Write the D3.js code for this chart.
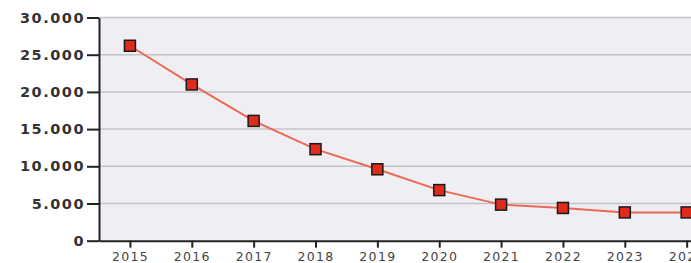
<!DOCTYPE html>
<html>
<head>
<meta charset="utf-8">
<script src="https://cdn.jsdelivr.net/npm/d3@7"></script>
<style>
  body { margin: 0; background: #fff; overflow: hidden; }
  svg { display: block; }
</style>
</head>
<body>
<svg width="691" height="263"></svg>
<script>
var years = [2015, 2016, 2017, 2018, 2019, 2020, 2021, 2022, 2023, 2024];
var values = [26200, 21000, 16100, 12300, 9600, 6800, 4850, 4400, 3800, 3800];
var yTicks = [0, 5000, 10000, 15000, 20000, 25000, 30000];

var svg = d3.select("svg");

// plot box (note: "top" is taken by window.top)
var plotL = 99, plotT = 17.5, plotB = 240.7, plotR = 717.6;

var x = d3.scalePoint()
    .domain(years)
    .range([plotL, plotR])
    .padding(0.5);

var y = d3.scaleLinear()
    .domain([0, 30000])
    .range([plotB, plotT]);

// dots as thousands separator
var fmt = function (d) {
    return d3.format(",")(d).replace(/,/g, ".");
};

// plot background
svg.append("rect")
    .attr("x", plotL)
    .attr("y", plotT)
    .attr("width", plotR - plotL)
    .attr("height", plotB - plotT)
    .attr("fill", "#efeef3");

// gridlines
svg.selectAll("line.grid").data(yTicks.slice(1)).enter()
    .append("line")
    .attr("class", "grid")
    .attr("x1", plotL)
    .attr("x2", plotR)
    .attr("y1", function (d) { return y(d); })
    .attr("y2", function (d) { return y(d); })
    .attr("stroke", "#c4c4c8")
    .attr("stroke-width", 1.5);

// y axis
var yAxis = svg.append("g")
    .attr("transform", "translate(" + plotL + ",0)")
    .call(d3.axisLeft(y).tickValues(yTicks).tickFormat(fmt).tickSize(12).tickSizeOuter(0).tickPadding(2));

// x axis
var xAxis = svg.append("g")
    .attr("transform", "translate(0," + plotB + ")")
    .call(d3.axisBottom(x).tickSize(7).tickSizeOuter(0).tickPadding(4));

[yAxis, xAxis].forEach(function (g) {
    g.select(".domain").attr("stroke", "#222").attr("stroke-width", 2);
    g.selectAll(".tick line").attr("stroke", "#222").attr("stroke-width", 2);
});

yAxis.selectAll("text")
    .attr("fill", "#333")
    .attr("style", "font-family: 'DejaVu Sans'; font-size: 14.5px; font-weight: bold; letter-spacing: 1.5px;");

xAxis.selectAll("text")
    .attr("fill", "#444")
    .attr("style", "font-family: 'DejaVu Sans'; font-size: 12.5px; letter-spacing: 1.3px;");

// series line
var line = d3.line()
    .x(function (d, i) { return x(years[i]); })
    .y(function (d) { return y(d); });

svg.append("path")
    .datum(values)
    .attr("d", line)
    .attr("fill", "none")
    .attr("stroke", "#ea6a55")
    .attr("stroke-width", 2);

// square markers
var s = 11;
svg.selectAll("rect.pt").data(values).enter()
    .append("rect")
    .attr("class", "pt")
    .attr("x", function (d, i) { return x(years[i]) - s / 2; })
    .attr("y", function (d) { return y(d) - s / 2; })
    .attr("width", s)
    .attr("height", s)
    .attr("fill", "#e02a1a")
    .attr("stroke", "#1a1a1a")
    .attr("stroke-width", 1.5);
</script>
</body>
</html>
